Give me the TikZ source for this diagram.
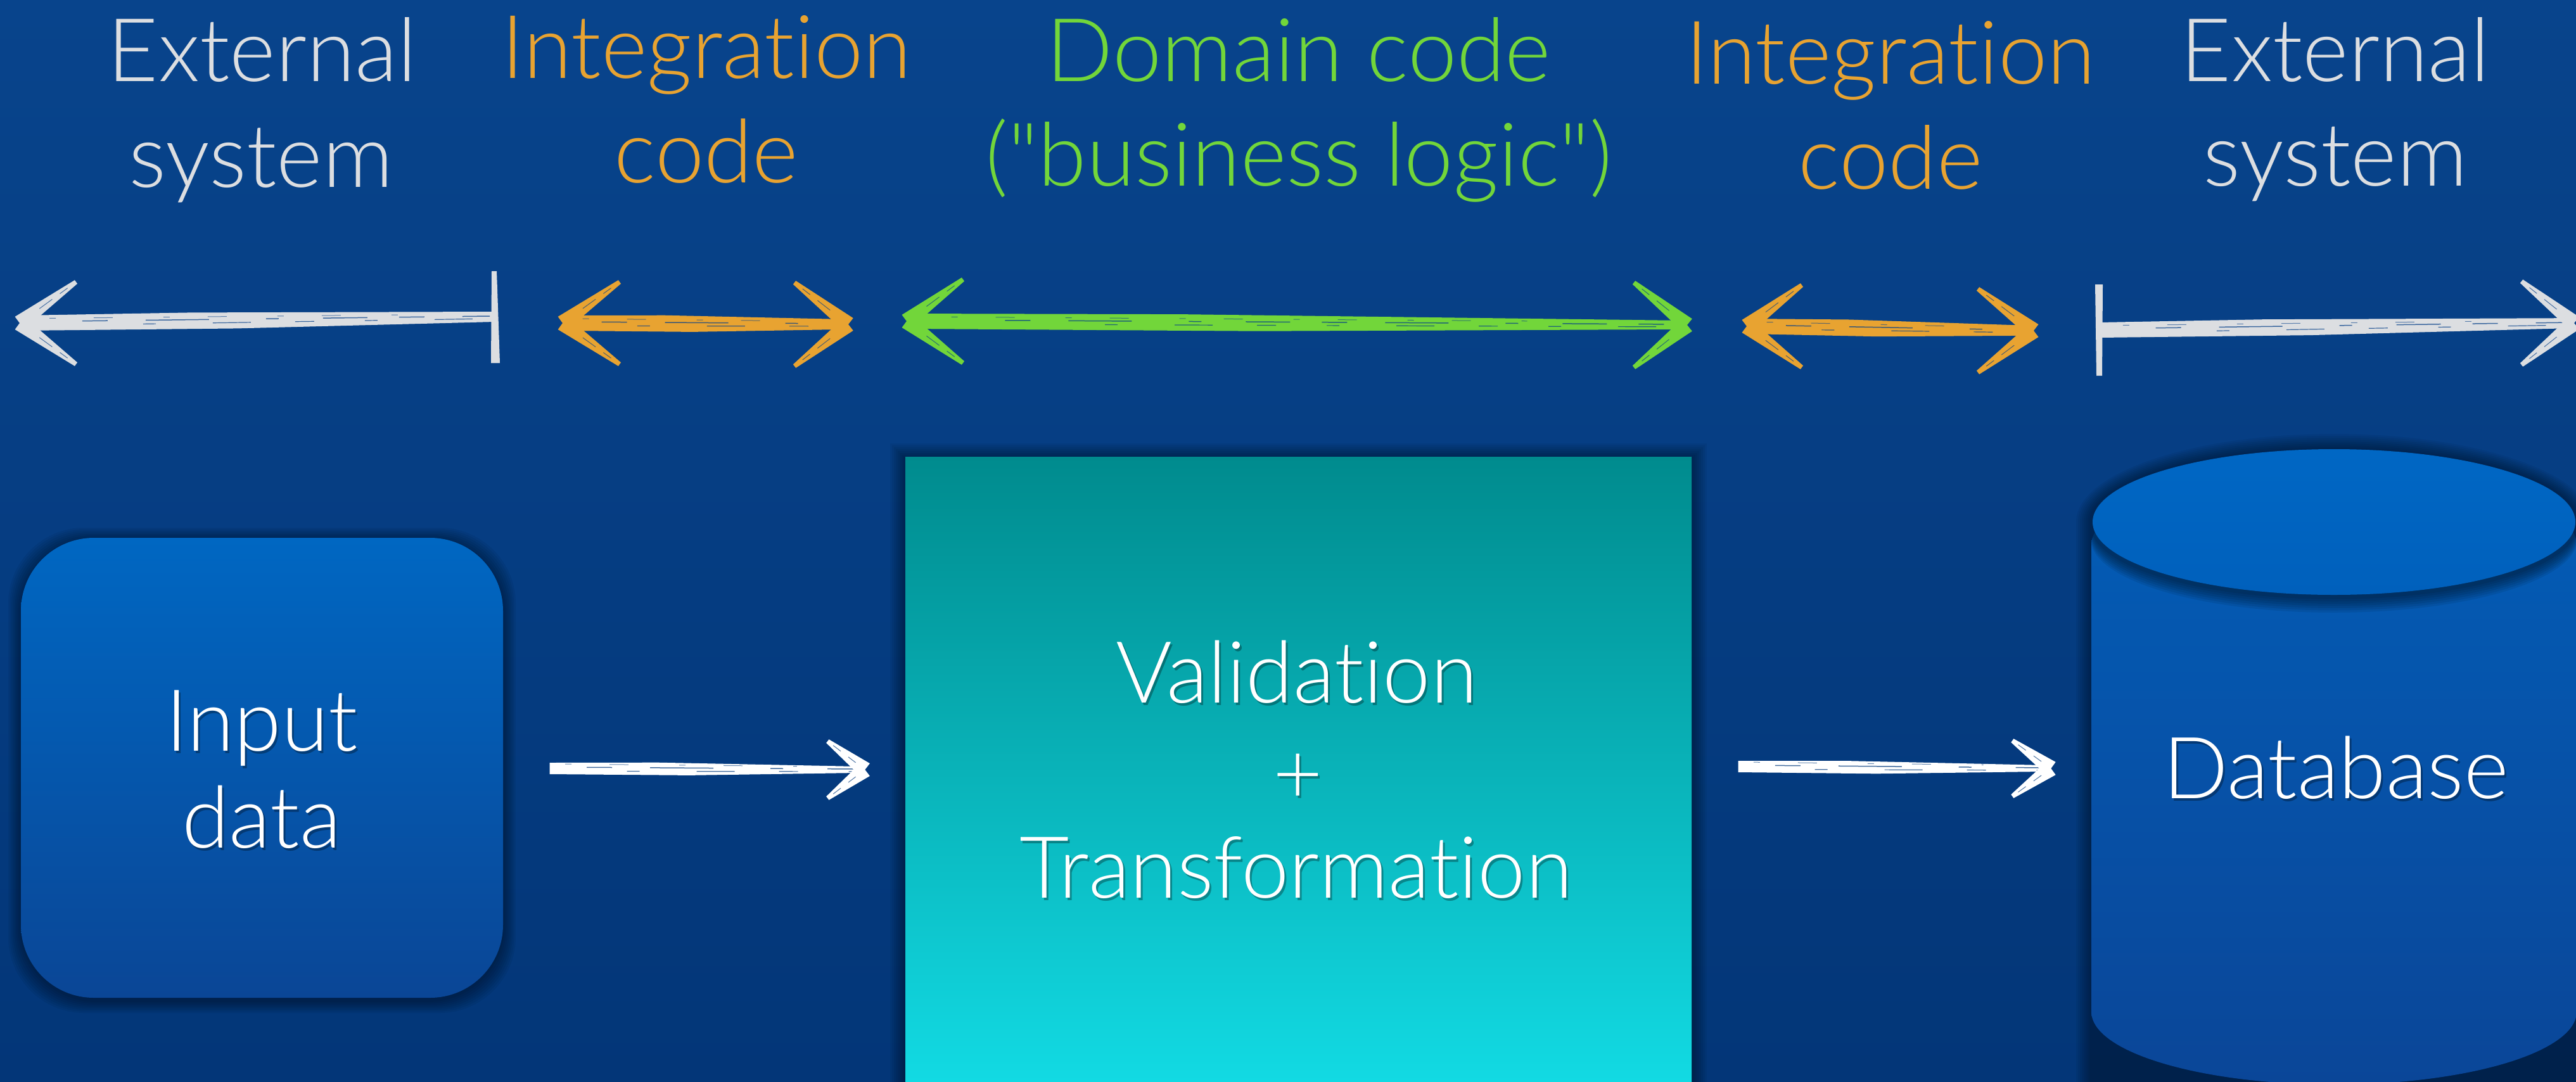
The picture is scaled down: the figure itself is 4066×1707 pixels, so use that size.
\documentclass[tikz,border=0pt]{standalone}
\usepackage{fontspec}
\setmainfont{Lato}[UprightFont={* Light}, Ligatures=NoCommon, RawFeature={-liga;-clig;-calt;-dlig}]
% a plain instance with no TeX input mapping, for the straight double quote
\font\straightq="Lato Light" at 39.5pt
\usetikzlibrary{calc}

\definecolor{bgtop}{HTML}{08448C}
\definecolor{bgbot}{HTML}{033678}
\definecolor{chalk}{HTML}{DCDEE1}
\definecolor{orng}{HTML}{E8A331}
\definecolor{grn}{HTML}{72D63A}
\definecolor{streakcol}{HTML}{07418A}
\definecolor{lowstreak}{HTML}{043B7E}
\definecolor{boxtop}{HTML}{0067C2}
\definecolor{boxbot}{HTML}{0A4696}
\definecolor{tealtop}{HTML}{008B8E}
\definecolor{tealbot}{HTML}{12DAE3}
\definecolor{lidtop}{HTML}{0067C4}
\definecolor{lidbot}{HTML}{0060BC}
\definecolor{dbtop}{HTML}{035DB7}
\definecolor{dbbot}{HTML}{0A4698}

\tikzset{
  headlbl/.style={font=\fontsize{39.5}{47}\selectfont, anchor=base, inner sep=0pt},
  boxlbl/.style={font=\fontsize{38.5}{46}\selectfont, anchor=base, inner sep=0pt, text=white},
  boxshadow/.style={font=\fontsize{38.5}{46}\selectfont, anchor=base, inner sep=0pt, text=black, opacity=0.3},
  streak/.style={draw=streakcol},
}
\newcommand\dq{{\straightq "}}

% one stroke of a chalk arrow head, from its loose end to the tip
\newcommand\chalkbarb[3]{%
  \fill[#1] ($#2!0.35mm!90:#3$) -- ($#3!1.25mm!-90:#2$) -- ($#3!1.25mm!90:#2$) -- ($#2!0.35mm!-90:#3$) -- cycle;
  \draw[streak, opacity=0.7, line width=0.1mm, dash pattern=on 1.5mm off 1.5mm on 2.5mm off 2mm] ($#2!0.15!#3$) -- ($#2!0.75!#3$);
}
% chevron heads pointing right / left: colour, tip, length, half spread
\newcommand\tipR[4]{%
  \coordinate (bA) at ($(#2)+(-#3,-#4)$);
  \coordinate (bB) at ($(#2)+(-#3,#4)$);
  \chalkbarb{#1}{(bA)}{(#2)}
  \chalkbarb{#1}{(bB)}{(#2)}
}
\newcommand\tipL[4]{%
  \coordinate (bA) at ($(#2)+(#3,-#4)$);
  \coordinate (bB) at ($(#2)+(#3,#4)$);
  \chalkbarb{#1}{(bA)}{(#2)}
  \chalkbarb{#1}{(bB)}{(#2)}
}
% tapered chalk shaft: colour, from, to, half widths, trims at both ends
\newcommand\shaft[7]{%
  \coordinate (sa) at ($(#2)!#6!(#3)$);
  \coordinate (sb) at ($(#3)!#7!(#2)$);
  \fill[#1] ($(sa)+(0,-#4)$) -- ($(sa)!0.35!(sb)+(0,-#4-1)$) -- ($(sb)+(0,-#5)$)
     -- ($(sb)+(0,#5)$) -- ($(sa)!0.45!(sb)+(0,#4+1)$) -- ($(sa)+(0,#4)$) -- cycle;
  \draw[streak, opacity=0.75, line width=0.15mm, dash pattern=on 4mm off 6mm on 10mm off 9mm on 2mm off 7mm on 7mm off 5mm]
     ($(sa)!0.12!(sb)+(0,-2)$) -- ($(sb)+(-8,-1)$);
  \draw[streak, opacity=0.75, line width=0.12mm, dash pattern=on 2mm off 9mm on 6mm off 7mm on 3mm off 8mm]
     ($(sa)!0.25!(sb)+(0,4)$) -- ($(sb)+(-6,3)$);
  \draw[streak, opacity=0.6, line width=0.1mm, dash pattern=on 1mm off 6mm on 3mm off 8mm]
     ($(sa)!0.05!(sb)+(0,-7)$) -- ($(sa)!0.8!(sb)+(0,-5)$);
}

\begin{document}
\begin{tikzpicture}[x=0.1mm, y=-0.1mm]
\useasboundingbox (0,0) rectangle (4066,1707);
\clip (0,0) rectangle (4066,1707);
\fill[top color=bgtop, bottom color=bgbot] (0,0) rectangle (4066,1707);

% ---------- column headings ----------
\node[headlbl, text=chalk] (extL1) at (414,128) {External};
\node[headlbl, text=chalk] (extL2) at (412,295) {system};
\node[headlbl, text=orng] (intL1) at (1115,123) {Integration};
\node[headlbl, text=orng] (intL2) at (1115,288) {code};
\node[headlbl, text=grn] (dom1) at (2050,128) {Domain code};
\node[headlbl, text=grn] (dom2) at (2050,293) {(\dq business logic\dq)};
\node[headlbl, text=orng] (intR1) at (2984,132) {Integration};
\node[headlbl, text=orng] (intR2) at (2984,298) {code};
\node[headlbl, text=chalk] (extR1) at (3686,128) {External};
\node[headlbl, text=chalk] (extR2) at (3686,293) {system};

% ---------- chalk range arrows ----------
\coordinate (wLtip) at (31,510);
\coordinate (wLbar) at (781,500);
\coordinate (oLa) at (888,510);
\coordinate (oLb) at (1339,512);
\coordinate (gA) at (1431,507);
\coordinate (gB) at (2663,513);
\coordinate (oRa) at (2757,515);
\coordinate (oRb) at (3210,522);
\coordinate (wRbar) at (3314,521);
\coordinate (wRtip) at (4063,510);

\shaft{chalk}{wLtip}{wLbar}{12}{8}{1mm}{0mm}
\tipL{chalk}{wLtip}{89}{65}
\fill[chalk] ($(wLbar)+(-5,-72)$) -- ($(wLbar)+(3,-72)$) -- ($(wLbar)+(8,73)$) -- ($(wLbar)+(-6,73)$) -- cycle;

\shaft{orng}{oLa}{oLb}{12}{8}{1mm}{1mm}
\tipL{orng}{oLa}{90}{65}
\tipR{orng}{oLb}{85}{66}

\shaft{grn}{gA}{gB}{12}{7}{1mm}{1mm}
\tipL{grn}{gA}{89}{66}
\tipR{grn}{gB}{84}{67}

\shaft{orng}{oRa}{oRb}{12}{8}{1mm}{1mm}
\tipL{orng}{oRa}{87}{65}
\tipR{orng}{oRb}{88}{66}

\shaft{chalk}{wRbar}{wRtip}{12}{8}{0mm}{1mm}
\tipR{chalk}{wRtip}{83}{66}
\fill[chalk] ($(wRbar)+(-7,-72)$) -- ($(wRbar)+(5,-72)$) -- ($(wRbar)+(4,72)$) -- ($(wRbar)+(-5,72)$) -- cycle;

% ---------- input data ----------
\foreach \i in {1,...,8}
  \fill[black, opacity=0.05, rounded corners=12mm]
    ({33-2.5*\i},{849-2.5*\i+4}) rectangle ({794+2.5*\i},{1575+2.5*\i+4});
\node[inner sep=0, rounded corners=11.5mm, top color=boxtop, bottom color=boxbot,
      minimum width=76.1mm, minimum height=72.6mm] (inbox) at (413.5,1212) {};
\node[boxshadow] (in1s) at (416,1189) {Input};
\node[boxshadow] (in2s) at (416,1342) {data};
\node[boxlbl] (in1) at (413,1185) {Input};
\node[boxlbl] (in2) at (413,1338) {data};

% ---------- validation + transformation ----------
\foreach \i in {1,...,8}
  \fill[black, opacity=0.05] ({1429-3*\i},{721-3*\i+3}) rectangle ({2670+3*\i},1760);
\node[inner sep=0, top color=tealtop, bottom color=tealbot,
      minimum width=124.1mm, minimum height=98.6mm] (vbox) at (2049.5,1214) {};
\node[boxshadow] (v1s) at (2050,1113) {Validation};
\node[boxshadow] (v2s) at (2052,1272) {+};
\node[boxshadow] (v3s) at (2049,1421) {Transformation};
\node[boxlbl] (v1) at (2047,1109) {Validation};
\node[boxlbl] (v2) at (2049,1268) {+};
\node[boxlbl] (v3) at (2046,1417) {Transformation};

% ---------- database ----------
\foreach \i in {1,...,8}
  \fill[black, opacity=0.05] ({3301-3*\i},824) -- ({3301-3*\i},1760) -- ({4067+3*\i},1760) -- ({4067+3*\i},824)
    arc[start angle=0, end angle=180, x radius={38.3mm+0.3mm*\i}, y radius={11.5mm+0.3mm*\i}] -- cycle;
\path[top color=dbtop, bottom color=dbbot]
  (3301,860) -- (3301,1597) arc[start angle=180, end angle=360, x radius=38.3mm, y radius=11.5mm]
  -- (4067,860) arc[start angle=0, end angle=180, x radius=38.3mm, y radius=11.5mm] -- cycle;
\begin{scope}
  \clip (3301,860) -- (3301,1597) arc[start angle=180, end angle=360, x radius=38.3mm, y radius=11.5mm]
    -- (4067,860) arc[start angle=0, end angle=180, x radius=38.3mm, y radius=11.5mm] -- cycle;
  \foreach \i in {0,...,6}
    \fill[black, opacity=0.075] (3684,{830+3.5*\i}) ellipse [x radius=38.4mm, y radius=11.6mm];
\end{scope}
\path[top color=lidtop, bottom color=lidbot] (3684,824) ellipse [x radius=38.1mm, y radius=11.5mm];
\node[inner sep=0, minimum width=76.6mm, minimum height=80mm] (db) at (3684,1210) {};
\node[boxshadow] (dbs) at (3690,1264) {Database};
\node[boxlbl] (dbl) at (3687,1260) {Database};

% ---------- data flow arrows ----------
\begin{scope}[streak/.style={draw=lowstreak}]
  \coordinate (fa1) at ($(inbox.east)+(73,1)$);
  \coordinate (fa2) at ($(vbox.west)+(-63,1)$);
  \shaft{white}{fa1}{fa2}{9}{5}{0mm}{1mm}
  \tipR{white}{fa2}{59}{45}
  \coordinate (fb1) at ($(vbox.east)+(73,-4)$);
  \coordinate (fb2) at ($(db.west)+(-63,3)$);
  \shaft{white}{fb1}{fb2}{9}{5}{0mm}{1mm}
  \tipR{white}{fb2}{61}{44}
\end{scope}
\end{tikzpicture}
\end{document}
